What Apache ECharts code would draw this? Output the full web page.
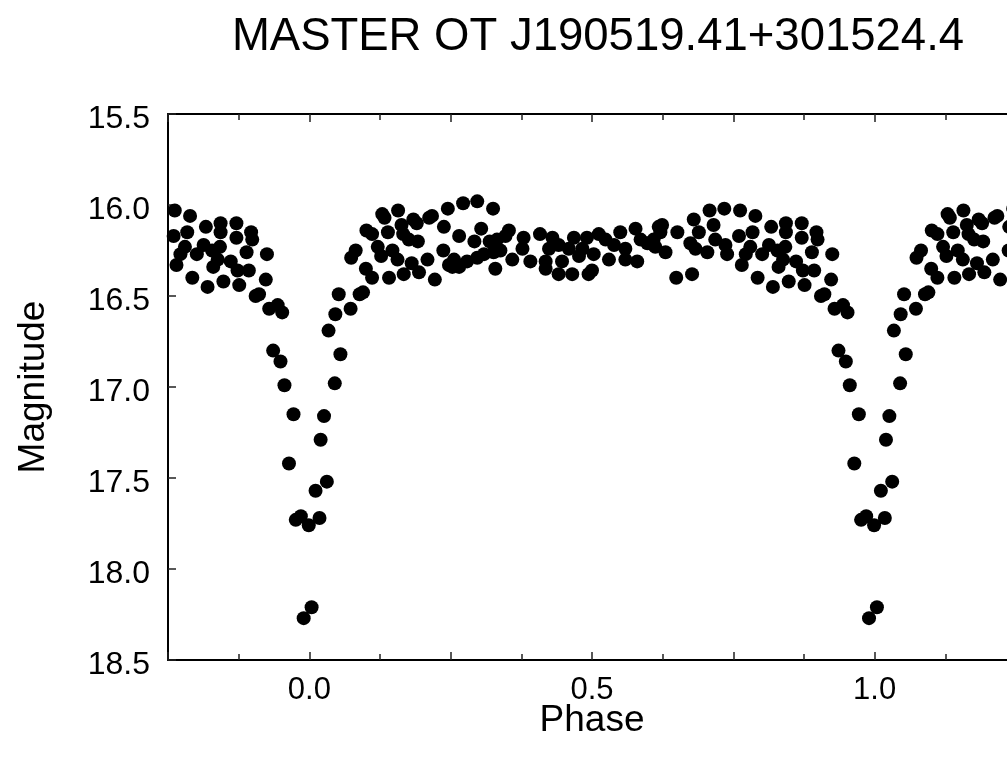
<!DOCTYPE html>
<html>
<head>
<meta charset="utf-8">
<script src="https://cdn.jsdelivr.net/npm/echarts@6/dist/echarts.min.js"></script>
<style>
  html, body { margin: 0; padding: 0; background: #ffffff; overflow: hidden; }
  #chart { width: 1030px; height: 767px; }
</style>
</head>
<body>
<div id="chart"></div>
<script>
// ---- Data (phase-folded light curve; base phases 0..1, plotted repeated over -0.25..1.25) ----
const titleText = 'MASTER OT J190519.41+301524.4';
const xName = 'Phase';
const yName = 'Magnitude';

const phases = [
  0.004, 0.011, 0.018, 0.020, 0.026, 0.031, 0.034, 0.045, 0.046, 0.052,
  0.055, 0.073, 0.089, 0.095, 0.074, 0.082, 0.100, 0.111, 0.101, 0.111,
  0.121, 0.127, 0.129, 0.133, 0.139, 0.141, 0.147, 0.156, 0.157, 0.163,
  0.166, 0.167, 0.176, 0.181, 0.184, 0.190, 0.192, 0.194, 0.209, 0.212,
  0.217, 0.222, 0.237, 0.238, 0.245,
  0.247, 0.253, 0.256, 0.265, 0.265, 0.272, 0.279, 0.292, 0.297, 0.297,
  0.304, 0.309, 0.319, 0.325, 0.326, 0.329, 0.332, 0.338, 0.347, 0.353,
  0.359, 0.377, 0.379, 0.391, 0.408, 0.418, 0.418, 0.424, 0.430, 0.441,
  0.441, 0.447, 0.459, 0.465, 0.468, 0.477, 0.483, 0.491, 0.494, 0.500,
  0.503, 0.512, 0.524, 0.530, 0.539, 0.550, 0.559, 0.559, 0.577, 0.580,
  0.586, 0.598, 0.609, 0.609, 0.612, 0.618, 0.621, 0.624, 0.630, 0.649,
  0.651, 0.674, 0.677, 0.680, 0.683, 0.689, 0.704, 0.708, 0.715, 0.718,
  0.734, 0.736, 0.739,
  0.762, 0.789, 0.760, 0.784, 0.817, 0.843, 0.843, 0.871, 0.871, 0.897,
  0.899, 0.780, 0.772, 0.801, 0.813, 0.828, 0.842, 0.838, 0.830, 0.861,
  0.873, 0.893, 0.889, 0.925, 0.765, 0.793, 0.820, 0.848, 0.876, 0.923,
  0.905, 0.911, 0.929, 0.944, 0.952, 0.936, 0.949, 0.956, 0.972, 0.964,
  0.976, 0.985, 0.999, 0.990
];
const magnitudes = [
  18.21, 17.57, 17.72, 17.29, 17.16, 17.52, 16.69, 16.98, 16.60, 16.49,
  16.82, 16.57, 16.49, 16.48, 16.29, 16.25, 16.35, 16.40, 16.14, 16.16,
  16.23, 16.28, 16.05, 16.07, 16.15, 16.40, 16.25, 16.30, 16.03, 16.11,
  16.16, 16.38, 16.19, 16.32, 16.08, 16.10, 16.20, 16.37, 16.30, 16.07,
  16.06, 16.41, 16.25, 16.12, 16.02,
  16.33, 16.34, 16.30, 16.17, 16.34, 15.99, 16.31, 16.20, 15.98, 16.29,
  16.13, 16.27, 16.20, 16.02, 16.26, 16.35, 16.19, 16.25, 16.17, 16.14,
  16.30, 16.24, 16.18, 16.31, 16.16, 16.31, 16.35, 16.24, 16.18, 16.22,
  16.38, 16.31, 16.24, 16.38, 16.18, 16.28, 16.24, 16.18, 16.38, 16.36,
  16.27, 16.16, 16.19, 16.30, 16.22, 16.15, 16.24, 16.30, 16.13, 16.31,
  16.19, 16.21, 16.22, 16.19, 16.23, 16.12, 16.15, 16.11, 16.26, 16.40,
  16.15, 16.21, 16.38, 16.08, 16.24, 16.15, 16.26, 16.03, 16.11, 16.19,
  16.02, 16.22, 16.27,
  16.03, 16.06, 16.17, 16.15, 16.12, 16.10, 16.15, 16.10, 16.18, 16.15,
  16.19, 16.23, 16.27, 16.27, 16.22, 16.25, 16.23, 16.30, 16.34, 16.31,
  16.36, 16.36, 16.26, 16.27, 16.33, 16.40, 16.45, 16.42, 16.44, 16.41,
  16.50, 16.49, 16.57, 16.55, 16.59, 16.80, 16.86, 16.99, 17.15, 17.42,
  17.73, 17.71, 17.76, 18.27
];
const phaseShifts = [-1, 0, 1];           // the folded curve is repeated one cycle each side
const xRange = [-0.25, 1.25];
const yRange = [15.5, 18.5];
const xLabelValues = [0.0, 0.5, 1.0];     // phase tick labels shown
const yTickValues = [15.5, 16.0, 16.5, 17.0, 17.5, 18.0, 18.5];

// ---- build plotted points ----
const points = [];
phaseShifts.forEach(function (s) {
  for (let i = 0; i < phases.length; i++) {
    const p = phases[i] + s;
    if (p >= xRange[0] && p <= xRange[1]) points.push([p, magnitudes[i]]);
  }
});

const FONT = "'Liberation Sans', Arial, sans-serif";
const xFmt = function (v) {
  for (let i = 0; i < xLabelValues.length; i++) {
    if (Math.abs(v - xLabelValues[i]) < 1e-9) return xLabelValues[i].toFixed(1);
  }
  return '';
};
const yFmt = function (v) {
  for (let i = 0; i < yTickValues.length; i++) {
    if (Math.abs(v - yTickValues[i]) < 1e-9) return yTickValues[i].toFixed(1);
  }
  return '';
};

const axisLine = { show: true, onZero: false, lineStyle: { color: '#000', width: 2 } };
const tick = { show: true, inside: true, length: 8, lineStyle: { color: '#222', width: 1.5 } };
const minorTick = { show: true, splitNumber: 2, length: 6, lineStyle: { color: '#222', width: 1.5 } };

const chart = echarts.init(document.getElementById('chart'), null, { renderer: 'canvas' });
chart.setOption({
  backgroundColor: '#ffffff',
  animation: false,
  title: {
    text: titleText,
    left: 593,
    top: 9,
    textAlign: 'center',
    textStyle: { fontFamily: FONT, fontSize: 45.5, fontWeight: 'normal', color: '#000' }
  },
  grid: { left: 168, top: 114, width: 848, height: 546, containLabel: false },
  xAxis: [
    {
      type: 'value', position: 'bottom', min: xRange[0], max: xRange[1], interval: 0.25,
      name: xName, nameLocation: 'middle', nameGap: 42, nameMoveOverlap: false,
      nameTextStyle: { fontFamily: FONT, fontSize: 37, color: '#000' },
      axisLine: axisLine, axisTick: tick, minorTick: minorTick,
      axisLabel: { formatter: xFmt, fontFamily: FONT, fontSize: 31, color: '#000', margin: 15, showMinLabel: true, showMaxLabel: true },
      splitLine: { show: false }, minorSplitLine: { show: false }
    },
    {
      type: 'value', position: 'top', min: xRange[0], max: xRange[1], interval: 0.25,
      axisLine: axisLine, axisTick: tick, minorTick: minorTick,
      axisLabel: { show: false }, splitLine: { show: false }
    }
  ],
  yAxis: [
    {
      type: 'value', position: 'left', inverse: true, min: yRange[0], max: yRange[1], interval: 0.5,
      name: yName, nameLocation: 'middle', nameGap: 116, nameRotate: 90,
      nameTextStyle: { fontFamily: FONT, fontSize: 37, color: '#000' },
      axisLine: axisLine, axisTick: tick,
      axisLabel: { formatter: yFmt, fontFamily: FONT, fontSize: 32, color: '#000', margin: 18,
                   verticalAlign: 'top', lineHeight: 10, showMinLabel: true, showMaxLabel: true },
      splitLine: { show: false }
    },
    {
      type: 'value', position: 'right', inverse: true, min: yRange[0], max: yRange[1], interval: 0.5,
      axisLine: axisLine, axisTick: tick,
      axisLabel: { show: false }, splitLine: { show: false }
    }
  ],
  series: [
    {
      type: 'scatter',
      xAxisIndex: 0, yAxisIndex: 0,
      data: points,
      symbol: 'circle',
      symbolSize: 14,
      itemStyle: { color: '#000', opacity: 1 },
      emphasis: { disabled: true },
      clip: true
    }
  ]
});
</script>
</body>
</html>
